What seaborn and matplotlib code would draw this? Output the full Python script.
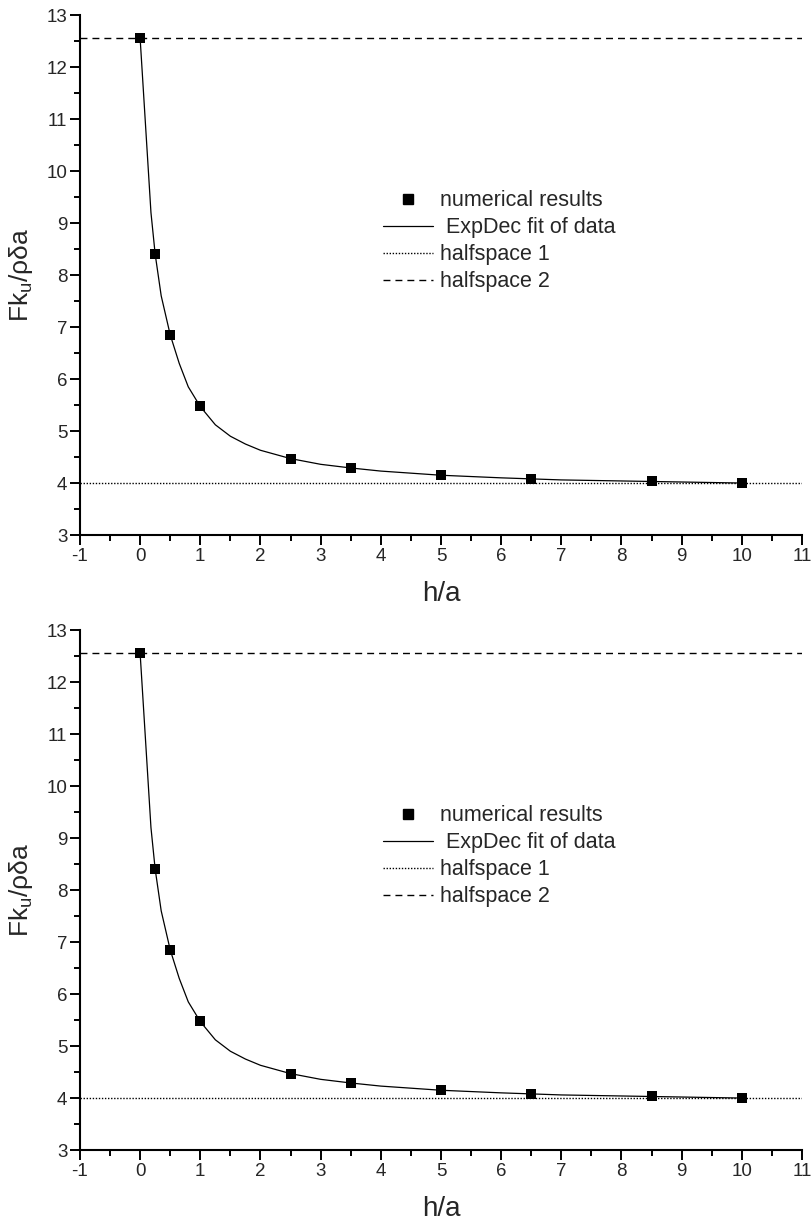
import numpy as np
import pandas as pd
import matplotlib
matplotlib.use("Agg")
import matplotlib.pyplot as plt
from matplotlib.ticker import MultipleLocator
from matplotlib.lines import Line2D
import seaborn as sns

# ---- data ----
h_points = [0, 0.25, 0.5, 1, 2.5, 3.5, 5, 6.5, 8.5, 10]
f_points = [12.55, 8.40, 6.85, 5.48, 4.46, 4.28, 4.15, 4.08, 4.03, 4.00]

h_fit = [0, 0.18, 0.25, 0.35, 0.5, 0.65, 0.8, 1.0, 1.25, 1.5, 1.75, 2.0,
         2.5, 3.0, 3.5, 4.0, 5.0, 6.0, 6.5, 7.0, 8.0, 8.5, 9.0, 10.0]
f_fit = [12.55, 9.20, 8.40, 7.60, 6.85, 6.30, 5.85, 5.47, 5.12, 4.90, 4.75, 4.63,
         4.47, 4.36, 4.29, 4.23, 4.15, 4.10, 4.08, 4.06, 4.04, 4.03, 4.02, 4.00]

halfspace1 = 4.0
halfspace2 = 12.566

x_ticks = list(range(-1, 12))
y_ticks = list(range(3, 14))

labels = ["numerical results", " ExpDec fit of data", "halfspace 1", "halfspace 2"]

sns.set_style("ticks")
plt.rcParams["font.family"] = ["Liberation Sans", "DejaVu Sans"]
plt.rcParams["mathtext.fontset"] = "custom"
plt.rcParams["mathtext.rm"] = "Liberation Sans"
plt.rcParams["mathtext.it"] = "Liberation Sans"

fig = plt.figure(figsize=(8.11, 12.21), dpi=100)
ax_positions = [[0.0986, 0.5618, 0.8903, 0.4259],
                [0.0986, 0.0581, 0.8903, 0.4259]]

df_pts = pd.DataFrame({"h": h_points, "F": f_points})
df_fit = pd.DataFrame({"h": h_fit, "F": f_fit})

dot_style = (0, (1, 1.2))
dash_style = (0, (5, 3.6))

for pos in ax_positions:
    ax = fig.add_axes(pos)
    ax.axhline(halfspace2, color="black", lw=1.0, linestyle=dash_style, zorder=1)
    ax.axhline(halfspace1, color="black", lw=1.0, linestyle=dot_style, zorder=1)
    sns.lineplot(data=df_fit, x="h", y="F", ax=ax, color="black", lw=0.9,
                 sort=False, zorder=2)
    sns.scatterplot(data=df_pts, x="h", y="F", ax=ax, color="black", marker="s",
                    s=60, edgecolor="black", linewidth=0, zorder=3)

    ax.set_xlim(-1, 11)
    ax.set_ylim(3, 13)
    ax.set_xticks(x_ticks)
    ax.set_yticks(y_ticks)
    ax.set_xticklabels([str(t) for t in x_ticks])
    ax.set_yticklabels([str(t) for t in y_ticks])
    ax.xaxis.set_minor_locator(MultipleLocator(0.5))
    ax.yaxis.set_minor_locator(MultipleLocator(0.5))
    ax.tick_params(which="major", direction="out", length=7, width=1.4,
                   labelsize=13.5, pad=2, color="black")
    ax.tick_params(which="minor", direction="out", length=4, width=1.4, color="black")
    for s in ["top", "right"]:
        ax.spines[s].set_visible(False)
    for s in ["left", "bottom"]:
        ax.spines[s].set_linewidth(1.5)
        ax.spines[s].set_color("black")

    ax.set_xlabel("h/a", fontsize=20, labelpad=12)
    ax.set_ylabel(r"Fk$_{\mathregular{u}}$/ρδa", fontsize=19, labelpad=8)

    handles = [
        Line2D([], [], color="black", marker="s", markersize=7.5, linestyle="none"),
        Line2D([], [], color="black", lw=0.9),
        Line2D([], [], color="black", lw=1.0, linestyle=dot_style),
        Line2D([], [], color="black", lw=1.0, linestyle=dash_style),
    ]
    ax.legend(handles, labels, loc="upper left", bbox_to_anchor=(0.42, 0.663),
              frameon=False, fontsize=15.5, handlelength=2.3, handletextpad=0.35,
              labelspacing=0.28, borderpad=0, borderaxespad=0)

fig.savefig("out.png", dpi=100)
